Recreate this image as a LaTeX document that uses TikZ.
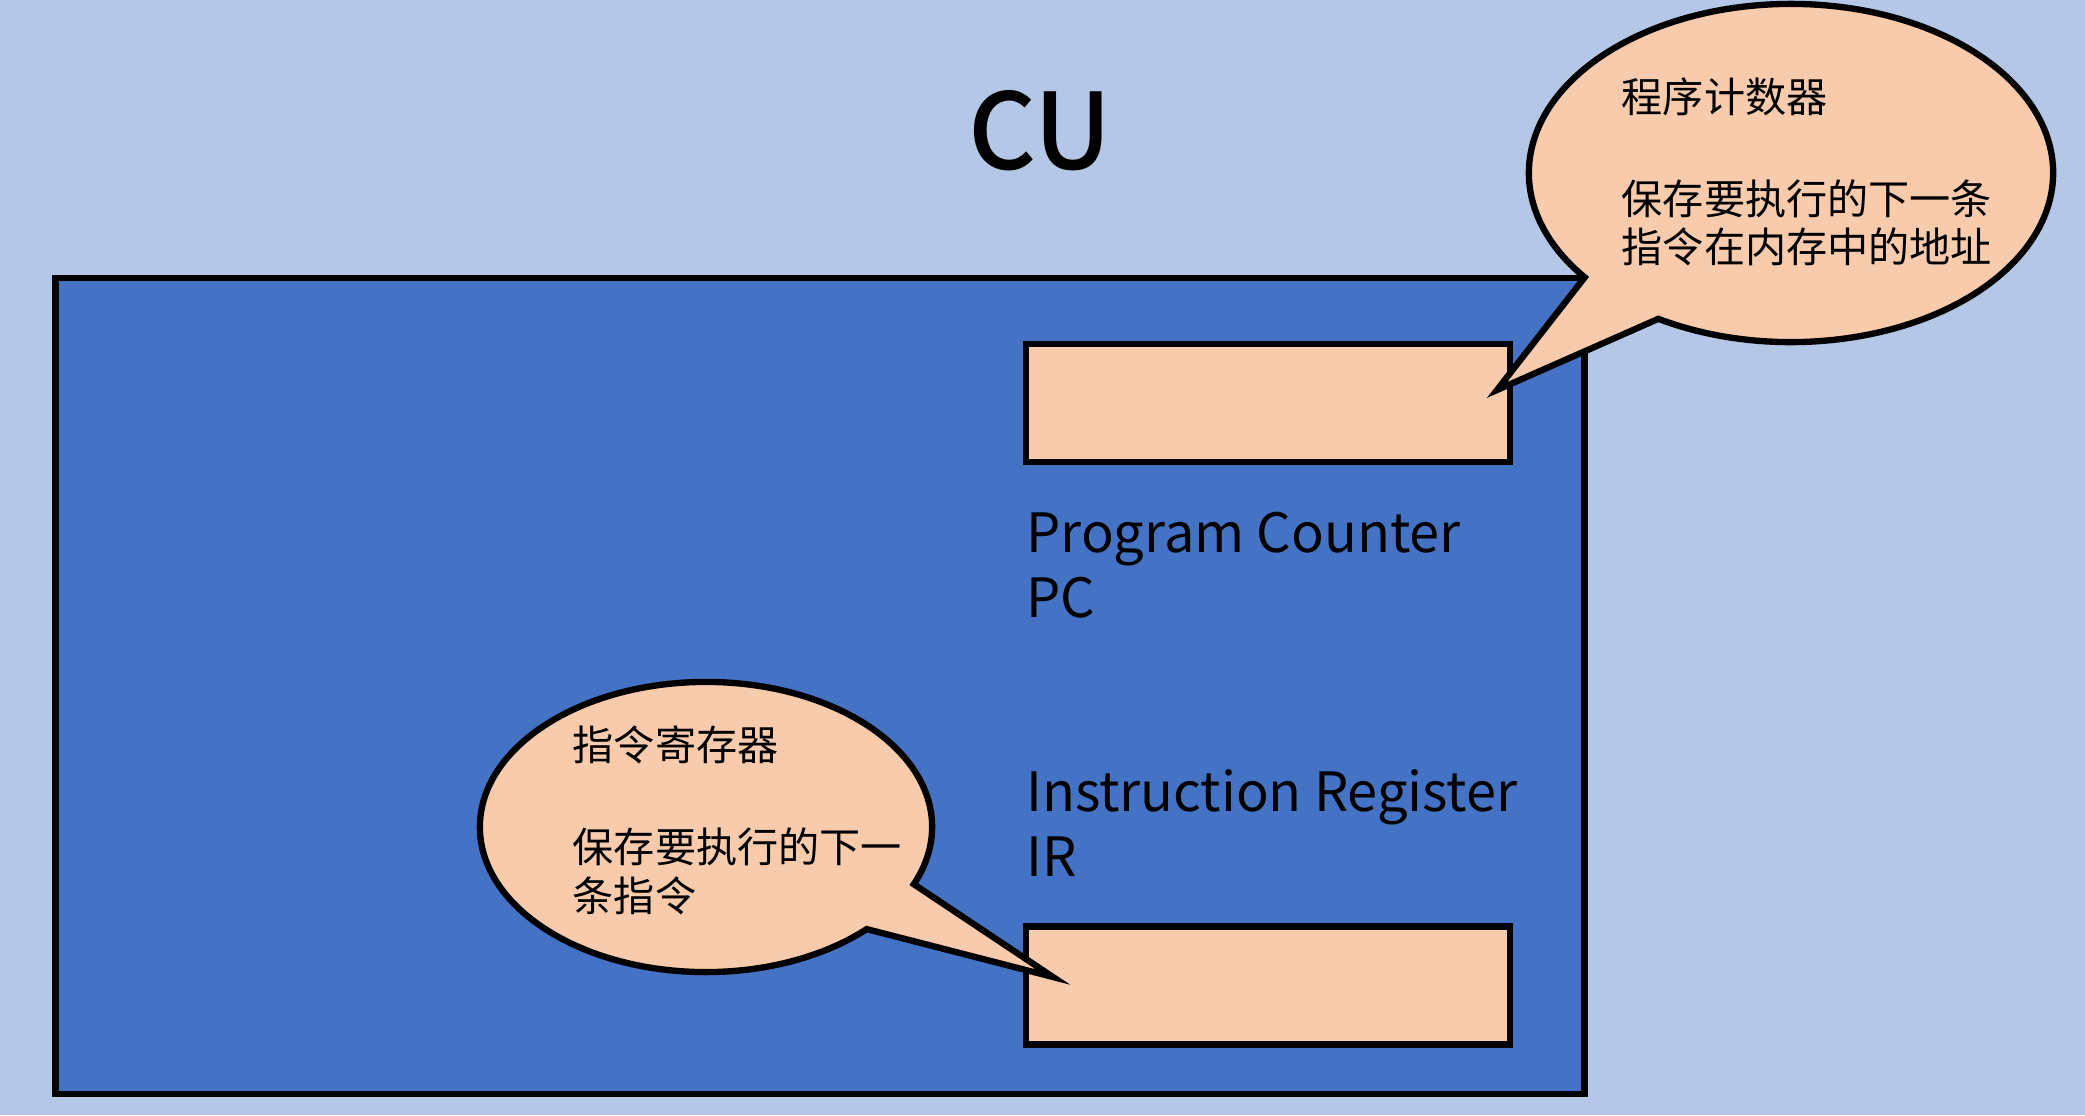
\documentclass[tikz,border=0pt]{standalone}
\usepackage{fontspec}
\setmainfont{Noto Sans CJK SC}
\newfontfamily\medfont{Noto Sans CJK SC Medium}
\usepackage{tikz}
\usetikzlibrary{positioning,shapes.callouts}
\definecolor{bgblue}{HTML}{B4C7E7}
\definecolor{cublue}{HTML}{4472C4}
\definecolor{peach}{HTML}{F8CBAD}

\begin{document}
\begin{tikzpicture}[x=0.01cm, y=-0.01cm,
			unit/.style={draw, line width=1.8pt, fill=cublue, inner sep=0pt},
			reg/.style={draw, line width=1.8pt, fill=peach, inner sep=0pt, minimum width=4.84cm, minimum height=1.18cm},
			regname/.style={inner sep=0pt, align=left, font=\fontsize{15.4}{18.5}\selectfont},
			note/.style={ellipse callout, draw, line width=1.8pt, fill=peach, inner sep=0pt, callout pointer arc=21.5},
			notetext/.style={anchor=north west, inner sep=0pt, align=left, font=\fontsize{11.7}{13.9}\selectfont}
		]
		\fill[bgblue] (0,0) rectangle (2085,1115);
		\useasboundingbox (0,0) rectangle (2085,1115);

		\node[font=\medfont\fontsize{30}{34}\selectfont, inner sep=0pt] (title) at (1040,131) {CU};
		\node[unit, minimum width=15.28cm, minimum height=8.16cm] (cu) at (820,686) {};

		\node[reg] (pc) at (1268,403) {};
		\node[reg] (ir) at (1268,985.5) {};

		\node[regname, below right=0.46cm and 0.03cm of pc.south west] (pcname) {Program Counter\\PC};
		\node[regname, above right=0.46cm and 0.03cm of ir.north west] (irname) {Instruction Register\\IR};

		% callouts
		\coordinate (pctip) at (1497,390);
		\coordinate (irtip) at (1053,977);
		\node[note, minimum width=5.24cm, minimum height=3.38cm, callout absolute pointer=(pctip)] (pcnote) at (1791,173) {};
		\node[note, minimum width=4.52cm, minimum height=2.90cm, callout absolute pointer=(irtip)] (irnote) at (706,827) {};

		\node[notetext] (pctext) at (1621,77) {程序计数器\\[15pt]保存要执行的下一条\\指令在内存中的地址};
		\node[notetext] (irtext) at (572,725) {指令寄存器\\[15pt]保存要执行的下一\\条指令};
	\end{tikzpicture}
\end{document}
